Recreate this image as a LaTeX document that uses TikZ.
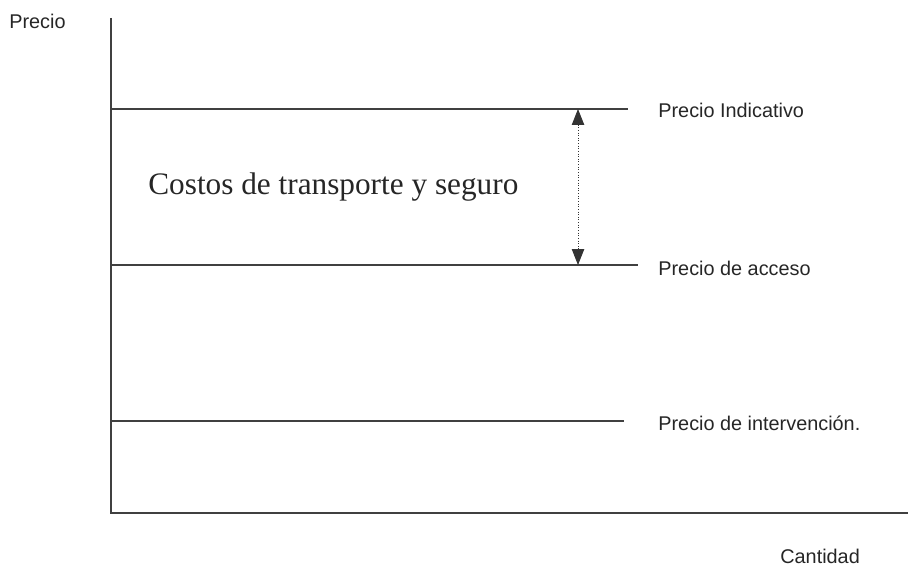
\documentclass[tikz,border=0pt]{standalone}
\usepackage{fontspec}
\setmainfont{Liberation Sans}
\newfontfamily\timesfont{Liberation Serif}
\usetikzlibrary{positioning, arrows, arrows.meta}

\tikzset{
  precioline/.style={black!75,line width=0.7pt},
  axisline/.style={black!75,line width=0.8pt},
  etiqueta/.style={anchor=west,inner sep=0pt,font=\fontsize{11.3pt}{13pt}\selectfont,black!85},
}

\begin{document}
\begin{tikzpicture}[x=0.02cm,y=-0.02cm]
\useasboundingbox (0,0) rectangle (908,571);
% ejes
\coordinate (origen) at (111,513);
\coordinate (arriba) at (111,18);
\coordinate (derecha) at (908,513);
\draw[axisline] (arriba) -- (origen) -- (derecha);
\node[etiqueta] (precio) at (9,21) {Precio};
\node[etiqueta] (cantidad) at (780,556) {Cantidad};
% niveles de precio
\coordinate (indA) at (111,109);
\coordinate (indB) at (628,109);
\coordinate (accA) at (111,265);
\coordinate (accB) at (638,265);
\coordinate (intA) at (111,421);
\coordinate (intB) at (624,421);
\draw[precioline] (indA) -- (indB);
\draw[precioline] (accA) -- (accB);
\draw[precioline] (intA) -- (intB);
\node[etiqueta] (indicativo) at (658,110) {Precio Indicativo};
\node[etiqueta] (acceso) at (658,268) {Precio de acceso};
\node[etiqueta] (intervencion) at (658,423) {Precio de intervención.};
% margen
\coordinate (costoA) at (578,109);
\coordinate (costoB) at (578,265);
\draw[{Triangle[width=7pt,length=9pt]}-{Triangle[width=7pt,length=9pt]},black!80,densely dotted,line width=0.5pt] (costoA) -- (costoB);
\node[anchor=west,inner sep=0pt,font=\timesfont\fontsize{17.8pt}{20pt}\selectfont,black!85] (costos) at (148,187) {Costos de transporte y seguro};
\end{tikzpicture}
\end{document}
